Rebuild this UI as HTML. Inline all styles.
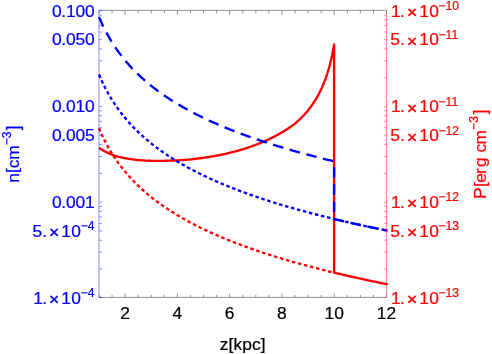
<!DOCTYPE html>
<html><head><meta charset="utf-8"><title>plot</title>
<style>html,body{margin:0;padding:0;background:#fff;overflow:hidden}body{width:492px;height:354px;position:relative}svg text{font-family:"Liberation Sans",sans-serif;stroke-width:0.22px;stroke-linejoin:round}</style></head>
<body>
<svg width="492" height="354" viewBox="0 0 492 354" style="position:absolute;left:0;top:0;will-change:transform">
<path d="M99.00,128.21 L99.94,130.44 L100.89,132.59 L101.83,134.67 L102.78,136.68 L103.72,138.63 L104.67,140.52 L105.61,142.36 L106.56,144.14 L107.50,145.88 L108.45,147.57 L109.39,149.21 L110.34,150.81 L111.28,152.37 L112.23,153.90 L113.17,155.38 L114.12,156.84 L115.06,158.26 L116.00,159.65 L116.95,161.01 L117.89,162.34 L118.84,163.64 L119.78,164.92 L120.73,166.17 L121.67,167.39 L122.62,168.59 L123.56,169.77 L124.51,170.93 L125.45,172.07 L126.40,173.19 L127.34,174.28 L128.29,175.36 L129.23,176.42 L130.17,177.47 L131.12,178.49 L132.06,179.50 L133.01,180.49 L133.95,181.47 L134.90,182.44 L135.84,183.38 L136.79,184.32 L137.73,185.24 L138.68,186.14 L139.62,187.04 L140.57,187.92 L141.51,188.79 L142.46,189.65 L143.40,190.49 L144.35,191.33 L145.29,192.15 L146.23,192.96 L147.18,193.77 L148.12,194.56 L149.07,195.34 L150.01,196.12 L150.96,196.88 L151.90,197.63 L152.85,198.38 L153.79,199.12 L154.74,199.84 L155.68,200.56 L156.63,201.27 L157.57,201.98 L158.52,202.67 L159.46,203.36 L160.40,204.04 L161.35,204.72 L162.29,205.38 L163.24,206.04 L164.18,206.69 L165.13,207.34 L166.07,207.98 L167.02,208.61 L167.96,209.24 L168.91,209.86 L169.85,210.47 L170.80,211.08 L171.74,211.68 L172.69,212.28 L173.63,212.87 L174.58,213.46 L175.52,214.04 L176.46,214.61 L177.41,215.18 L178.35,215.74 L179.30,216.30 L180.24,216.86 L181.19,217.41 L182.13,217.95 L183.08,218.49 L184.02,219.03 L184.97,219.56 L185.91,220.08 L186.86,220.61 L187.80,221.12 L188.75,221.64 L189.69,222.15 L190.63,222.65 L191.58,223.15 L192.52,223.65 L193.47,224.14 L194.41,224.63 L195.36,225.12 L196.30,225.60 L197.25,226.08 L198.19,226.55 L199.14,227.03 L200.08,227.49 L201.03,227.96 L201.97,228.42 L202.92,228.88 L203.86,229.33 L204.81,229.78 L205.75,230.23 L206.69,230.67 L207.64,231.11 L208.58,231.55 L209.53,231.99 L210.47,232.42 L211.42,232.85 L212.36,233.27 L213.31,233.70 L214.25,234.12 L215.20,234.54 L216.14,234.95 L217.09,235.36 L218.03,235.77 L218.98,236.18 L219.92,236.58 L220.86,236.99 L221.81,237.39 L222.75,237.78 L223.70,238.18 L224.64,238.57 L225.59,238.96 L226.53,239.34 L227.48,239.73 L228.42,240.11 L229.37,240.49 L230.31,240.87 L231.26,241.24 L232.20,241.62 L233.15,241.99 L234.09,242.36 L235.04,242.72 L235.98,243.09 L236.92,243.45 L237.87,243.81 L238.81,244.17 L239.76,244.52 L240.70,244.88 L241.65,245.23 L242.59,245.58 L243.54,245.93 L244.48,246.27 L245.43,246.62 L246.37,246.96 L247.32,247.30 L248.26,247.64 L249.21,247.98 L250.15,248.31 L251.09,248.65 L252.04,248.98 L252.98,249.31 L253.93,249.64 L254.87,249.96 L255.82,250.29 L256.76,250.61 L257.71,250.93 L258.65,251.25 L259.60,251.57 L260.54,251.89 L261.49,252.20 L262.43,252.52 L263.38,252.83 L264.32,253.14 L265.27,253.45 L266.21,253.75 L267.15,254.06 L268.10,254.36 L269.04,254.67 L269.99,254.97 L270.93,255.27 L271.88,255.57 L272.82,255.86 L273.77,256.16 L274.71,256.45 L275.66,256.75 L276.60,257.04 L277.55,257.33 L278.49,257.62 L279.44,257.90 L280.38,258.19 L281.32,258.48 L282.27,258.76 L283.21,259.04 L284.16,259.32 L285.10,259.60 L286.05,259.88 L286.99,260.16 L287.94,260.44 L288.88,260.71 L289.83,260.98 L290.77,261.26 L291.72,261.53 L292.66,261.80 L293.61,262.07 L294.55,262.33 L295.50,262.60 L296.44,262.87 L297.38,263.13 L298.33,263.40 L299.27,263.66 L300.22,263.92 L301.16,264.18 L302.11,264.44 L303.05,264.70 L304.00,264.95 L304.94,265.21 L305.89,265.46 L306.83,265.72 L307.78,265.97 L308.72,266.22 L309.67,266.47 L310.61,266.72 L311.55,266.97 L312.50,267.22 L313.44,267.47 L314.39,267.71 L315.33,267.96 L316.28,268.20 L317.22,268.44 L318.17,268.69 L319.11,268.93 L320.06,269.17 L321.00,269.41 L321.95,269.65 L322.89,269.88 L323.84,270.12 L324.78,270.35 L325.73,270.59 L326.67,270.82 L327.61,271.06 L328.56,271.29 L329.50,271.52 L330.45,271.75 L331.39,271.98 L332.34,272.21 L333.28,272.44 L334.10,272.66" fill="none" stroke="#ff0000" stroke-width="2.35" stroke-dasharray="3.5 2.7347"/>
<path d="M99.00,147.72 L100.01,148.44 L101.02,149.12 L102.03,149.76 L103.04,150.37 L104.05,150.94 L105.06,151.49 L106.07,152.01 L107.08,152.51 L108.09,152.99 L109.10,153.44 L110.11,153.87 L111.12,154.28 L112.13,154.67 L113.14,155.04 L114.15,155.40 L115.16,155.74 L116.17,156.07 L117.18,156.38 L118.19,156.68 L119.20,156.94 L120.21,157.18 L121.22,157.42 L122.23,157.65 L123.24,157.86 L124.25,158.07 L125.26,158.26 L126.27,158.45 L127.28,158.63 L128.29,158.79 L129.30,158.95 L130.31,159.11 L131.32,159.25 L132.33,159.39 L133.34,159.51 L134.35,159.64 L135.36,159.75 L136.37,159.86 L137.38,159.96 L138.39,160.06 L139.40,160.15 L140.41,160.23 L141.42,160.31 L142.43,160.38 L143.44,160.45 L144.45,160.51 L145.46,160.56 L146.47,160.61 L147.48,160.66 L148.49,160.70 L149.50,160.74 L150.51,160.77 L151.52,160.80 L152.53,160.82 L153.54,160.84 L154.55,160.85 L155.56,160.86 L156.57,160.87 L157.58,160.87 L158.59,160.87 L159.60,160.86 L160.61,160.85 L161.62,160.84 L162.63,160.82 L163.64,160.80 L164.65,160.77 L165.66,160.75 L166.67,160.74 L167.68,160.72 L168.69,160.70 L169.70,160.67 L170.71,160.64 L171.72,160.61 L172.73,160.58 L173.74,160.54 L174.75,160.50 L175.76,160.45 L176.77,160.40 L177.78,160.35 L178.79,160.29 L179.80,160.24 L180.81,160.17 L181.82,160.11 L182.83,160.04 L183.84,159.97 L184.85,159.89 L185.86,159.82 L186.87,159.74 L187.88,159.65 L188.89,159.57 L189.90,159.47 L190.91,159.37 L191.92,159.26 L192.93,159.15 L193.94,159.03 L194.95,158.92 L195.96,158.79 L196.97,158.67 L197.98,158.54 L198.99,158.41 L200.01,158.28 L201.02,158.14 L202.03,158.00 L203.04,157.86 L204.05,157.71 L205.06,157.56 L206.07,157.41 L207.08,157.25 L208.09,157.09 L209.10,156.93 L210.11,156.76 L211.12,156.59 L212.13,156.42 L213.14,156.25 L214.15,156.07 L215.16,155.88 L216.17,155.70 L217.18,155.51 L218.19,155.32 L219.20,155.12 L220.21,154.92 L221.22,154.72 L222.23,154.51 L223.24,154.30 L224.25,154.08 L225.26,153.86 L226.27,153.63 L227.28,153.40 L228.29,153.16 L229.30,152.92 L230.31,152.68 L231.32,152.43 L232.33,152.17 L233.34,151.91 L234.35,151.65 L235.36,151.39 L236.37,151.12 L237.38,150.84 L238.39,150.56 L239.40,150.28 L240.41,149.99 L241.42,149.70 L242.43,149.40 L243.44,149.10 L244.45,148.79 L245.46,148.47 L246.47,148.14 L247.48,147.80 L248.49,147.46 L249.50,147.11 L250.51,146.75 L251.52,146.39 L252.53,146.02 L253.54,145.65 L254.55,145.27 L255.56,144.89 L256.57,144.50 L257.58,144.11 L258.59,143.70 L259.60,143.29 L260.61,142.88 L261.62,142.46 L262.63,142.03 L263.64,141.59 L264.65,141.15 L265.66,140.70 L266.67,140.25 L267.68,139.79 L268.69,139.33 L269.70,138.85 L270.71,138.37 L271.72,137.87 L272.73,137.37 L273.74,136.86 L274.75,136.34 L275.76,135.81 L276.77,135.27 L277.78,134.72 L278.79,134.16 L279.80,133.59 L280.81,133.02 L281.82,132.44 L282.83,131.84 L283.84,131.24 L284.85,130.62 L285.86,129.98 L286.87,129.34 L287.88,128.67 L288.89,128.00 L289.90,127.31 L290.91,126.60 L291.92,125.87 L292.93,125.13 L293.91,124.37 L294.87,123.59 L295.84,122.79 L296.80,121.96 L297.77,121.12 L298.73,120.25 L299.69,119.36 L299.93,119.13 L300.17,118.91 L300.41,118.68 L300.65,118.44 L300.89,118.21 L301.13,117.98 L301.37,117.74 L301.61,117.50 L301.85,117.26 L302.09,117.02 L302.32,116.78 L302.56,116.53 L302.80,116.28 L303.04,116.03 L303.28,115.78 L303.52,115.53 L303.76,115.27 L303.99,115.02 L304.23,114.76 L304.47,114.50 L304.71,114.23 L304.95,113.97 L305.19,113.70 L305.43,113.43 L305.67,113.16 L305.91,112.88 L306.16,112.61 L306.40,112.33 L306.64,112.05 L306.88,111.76 L307.12,111.48 L307.36,111.19 L307.61,110.90 L307.85,110.60 L308.09,110.31 L308.33,110.01 L308.57,109.70 L308.81,109.40 L309.05,109.09 L309.29,108.78 L309.54,108.47 L309.78,108.15 L310.02,107.83 L310.26,107.51 L310.50,107.19 L310.74,106.86 L310.98,106.53 L311.22,106.19 L311.46,105.85 L311.70,105.51 L311.94,105.17 L312.18,104.82 L312.41,104.47 L312.65,104.11 L312.89,103.75 L313.13,103.39 L313.37,103.02 L313.62,102.65 L313.87,102.27 L314.13,101.89 L314.38,101.51 L314.63,101.12 L314.88,100.73 L315.13,100.33 L315.39,99.93 L315.64,99.53 L315.89,99.11 L316.14,98.70 L316.39,98.28 L316.65,97.85 L316.90,97.42 L317.15,96.98 L317.40,96.54 L317.66,96.09 L317.91,95.64 L318.16,95.18 L318.41,94.71 L318.66,94.24 L318.92,93.76 L319.17,93.27 L319.42,92.78 L319.67,92.28 L319.93,91.77 L320.18,91.26 L320.44,90.74 L320.70,90.21 L320.96,89.67 L321.21,89.13 L321.47,88.57 L321.73,88.01 L321.99,87.44 L322.24,86.85 L322.50,86.26 L322.76,85.66 L323.02,85.05 L323.28,84.43 L323.54,83.80 L323.79,83.15 L324.05,82.49 L324.31,81.82 L324.59,81.14 L324.86,80.45 L325.13,79.74 L325.40,79.02 L325.67,78.28 L325.94,77.53 L326.22,76.76 L326.49,75.97 L326.77,75.17 L327.04,74.35 L327.31,73.51 L327.59,72.64 L327.87,71.76 L328.14,70.86 L328.42,69.93 L328.70,68.98 L328.98,68.00 L329.26,67.00 L329.54,65.97 L329.58,65.83 L329.61,65.68 L329.65,65.54 L329.69,65.39 L329.73,65.25 L329.77,65.10 L329.81,64.95 L329.84,64.81 L329.88,64.66 L329.92,64.51 L329.96,64.36 L330.00,64.21 L330.04,64.06 L330.08,63.91 L330.11,63.76 L330.15,63.61 L330.19,63.45 L330.23,63.30 L330.27,63.14 L330.31,62.99 L330.35,62.83 L330.38,62.68 L330.42,62.52 L330.46,62.36 L330.50,62.21 L330.54,62.05 L330.58,61.89 L330.62,61.73 L330.66,61.57 L330.70,61.40 L330.73,61.24 L330.77,61.08 L330.81,60.91 L330.85,60.75 L330.89,60.58 L330.93,60.42 L330.97,60.25 L331.01,60.08 L331.05,59.92 L331.08,59.75 L331.12,59.58 L331.16,59.41 L331.20,59.23 L331.23,59.06 L331.27,58.89 L331.31,58.71 L331.35,58.54 L331.39,58.36 L331.42,58.19 L331.46,58.01 L331.50,57.83 L331.54,57.65 L331.58,57.47 L331.61,57.29 L331.65,57.11 L331.69,56.93 L331.73,56.74 L331.77,56.56 L331.81,56.37 L331.84,56.19 L331.88,56.00 L331.92,55.81 L331.96,55.62 L332.00,55.43 L332.03,55.24 L332.07,55.05 L332.11,54.85 L332.15,54.66 L332.19,54.46 L332.23,54.27 L332.26,54.07 L332.30,53.87 L332.34,53.67 L332.38,53.47 L332.42,53.27 L332.46,53.07 L332.50,52.86 L332.53,52.66 L332.57,52.45 L332.61,52.24 L332.65,52.04 L332.69,51.83 L332.73,51.61 L332.77,51.40 L332.80,51.19 L332.84,50.97 L332.88,50.76 L332.92,50.54 L332.96,50.32 L333.00,50.10 L333.04,50.18 L333.08,49.96 L333.12,49.74 L333.15,49.51 L333.19,49.28 L333.23,49.06 L333.27,48.83 L333.31,48.60 L333.35,48.36 L333.39,48.13 L333.43,47.89 L333.47,47.66 L333.51,47.42 L333.55,47.18 L333.58,46.94 L333.62,46.69 L333.66,46.45 L333.70,46.20 L333.74,45.96 L333.78,45.71 L333.82,45.45 L333.86,45.20 L333.89,44.95 L333.93,44.69 L333.96,44.43 L334.00,44.17 L334.03,43.91 L334.07,43.65 L334.10,43.38 L334.10,272.66 L334.10,272.66 L336.07,273.11 L337.91,273.54 L339.76,273.98 L341.60,274.41 L343.44,274.84 L345.29,275.26 L347.13,275.69 L348.97,276.11 L350.81,276.52 L352.66,276.94 L354.50,277.35 L356.34,277.76 L358.19,278.17 L360.03,278.57 L361.87,278.97 L363.72,279.37 L365.56,279.77 L367.40,280.16 L369.25,280.55 L371.09,280.94 L372.93,281.33 L374.77,281.71 L376.62,282.09 L378.46,282.47 L380.30,282.85 L382.15,283.23 L383.99,283.60 L385.83,283.97 L387.68,284.34" fill="none" stroke="#ff0000" stroke-width="2.35" stroke-linejoin="miter" stroke-miterlimit="3"/>
<path d="M99.00,74.53 L99.97,76.81 L100.93,79.00 L101.90,81.13 L102.86,83.18 L103.83,85.17 L104.79,87.09 L105.76,88.96 L106.72,90.78 L107.69,92.54 L108.65,94.25 L109.62,95.92 L110.59,97.55 L111.55,99.14 L112.52,100.68 L113.48,102.19 L114.45,103.67 L115.41,105.11 L116.38,106.51 L117.34,107.89 L118.31,109.24 L119.27,110.56 L120.24,111.85 L121.21,113.11 L122.17,114.35 L123.14,115.57 L124.10,116.76 L125.07,117.94 L126.03,119.09 L127.00,120.21 L127.96,121.32 L128.93,122.41 L129.90,123.48 L130.86,124.54 L131.83,125.57 L132.79,126.59 L133.76,127.59 L134.72,128.58 L135.69,129.55 L136.65,130.51 L137.62,131.45 L138.58,132.38 L139.55,133.30 L140.52,134.20 L141.48,135.09 L142.45,135.96 L143.41,136.83 L144.38,137.68 L145.34,138.52 L146.31,139.35 L147.27,140.17 L148.24,140.98 L149.20,141.78 L150.17,142.57 L151.14,143.35 L152.10,144.11 L153.07,144.87 L154.03,145.63 L155.00,146.37 L155.96,147.10 L156.93,147.82 L157.89,148.54 L158.86,149.25 L159.82,149.95 L160.79,150.64 L161.76,151.33 L162.72,152.01 L163.69,152.68 L164.65,153.34 L165.62,154.00 L166.58,154.65 L167.55,155.29 L168.51,155.93 L169.48,156.56 L170.44,157.18 L171.41,157.80 L172.38,158.41 L173.34,159.01 L174.31,159.61 L175.27,160.21 L176.24,160.80 L177.20,161.38 L178.17,161.96 L179.13,162.53 L180.10,163.10 L181.07,163.66 L182.03,164.22 L183.00,164.77 L183.96,165.32 L184.93,165.86 L185.89,166.40 L186.86,166.93 L187.82,167.46 L188.79,167.99 L189.75,168.51 L190.72,169.02 L191.69,169.53 L192.65,170.04 L193.62,170.55 L194.58,171.05 L195.55,171.54 L196.51,172.03 L197.48,172.52 L198.44,173.00 L199.41,173.49 L200.37,173.96 L201.34,174.44 L202.31,174.90 L203.27,175.37 L204.24,175.83 L205.20,176.29 L206.17,176.75 L207.13,177.20 L208.10,177.65 L209.06,178.10 L210.03,178.54 L210.99,178.98 L211.96,179.42 L212.93,179.85 L213.89,180.28 L214.86,180.71 L215.82,181.14 L216.79,181.56 L217.75,181.98 L218.72,182.39 L219.68,182.81 L220.65,183.22 L221.61,183.63 L222.58,184.03 L223.55,184.44 L224.51,184.84 L225.48,185.24 L226.44,185.63 L227.41,186.02 L228.37,186.42 L229.34,186.80 L230.30,187.19 L231.27,187.57 L232.24,187.95 L233.20,188.33 L234.17,188.71 L235.13,189.08 L236.10,189.46 L237.06,189.83 L238.03,190.19 L238.99,190.56 L239.96,190.92 L240.92,191.29 L241.89,191.64 L242.86,192.00 L243.82,192.36 L244.79,192.71 L245.75,193.06 L246.72,193.41 L247.68,193.76 L248.65,194.10 L249.61,194.45 L250.58,194.79 L251.54,195.13 L252.51,195.47 L253.48,195.80 L254.44,196.14 L255.41,196.47 L256.37,196.80 L257.34,197.13 L258.30,197.46 L259.27,197.78 L260.23,198.11 L261.20,198.43 L262.16,198.75 L263.13,199.07 L264.10,199.39 L265.06,199.70 L266.03,200.02 L266.99,200.33 L267.96,200.64 L268.92,200.95 L269.89,201.26 L270.85,201.57 L271.82,201.87 L272.78,202.18 L273.75,202.48 L274.72,202.78 L275.68,203.08 L276.65,203.38 L277.61,203.67 L278.58,203.97 L279.54,204.26 L280.51,204.55 L281.47,204.85 L282.44,205.13 L283.41,205.42 L284.37,205.71 L285.34,206.00 L286.30,206.28 L287.27,206.56 L288.23,206.85 L289.20,207.13 L290.16,207.41 L291.13,207.68 L292.09,207.96 L293.06,208.24 L294.03,208.51 L294.99,208.78 L295.96,209.06 L296.92,209.33 L297.89,209.60 L298.85,209.87 L299.82,210.13 L300.78,210.40 L301.75,210.66 L302.71,210.93 L303.68,211.19 L304.65,211.45 L305.61,211.71 L306.58,211.97 L307.54,212.23 L308.51,212.49 L309.47,212.75 L310.44,213.00 L311.40,213.26 L312.37,213.51 L313.33,213.76 L314.30,214.01 L315.27,214.26 L316.23,214.51 L317.20,214.76 L318.16,215.01 L319.13,215.26 L320.09,215.50 L321.06,215.75 L322.02,215.99 L322.99,216.23 L323.95,216.47 L324.92,216.71 L325.89,216.95 L326.85,217.19 L327.82,217.43 L328.78,217.67 L329.75,217.90 L330.71,218.14 L331.68,218.37 L332.64,218.61 L333.61,218.84 L334.58,219.07 L335.54,219.30 L336.51,219.53 L337.47,219.76 L338.44,219.99 L339.40,220.22 L340.37,220.45 L341.33,220.67 L342.30,220.90 L343.26,221.12 L344.23,221.34 L345.20,221.57 L346.16,221.79 L347.13,222.01 L348.09,222.23 L349.06,222.45 L350.02,222.67 L350.99,222.89 L351.95,223.11 L352.92,223.32 L353.88,223.54 L354.85,223.75 L355.82,223.97 L356.78,224.18 L357.75,224.39 L358.71,224.61 L359.68,224.82 L360.64,225.03 L361.61,225.24 L362.57,225.45 L363.54,225.66 L364.50,225.87 L365.47,226.07 L366.44,226.28 L367.40,226.49 L368.37,226.69 L369.33,226.90 L370.30,227.10 L371.26,227.30 L372.23,227.51 L373.19,227.71 L374.16,227.91 L375.13,228.11 L376.09,228.31 L377.06,228.51 L378.02,228.71 L378.99,228.91 L379.95,229.10 L380.92,229.30 L381.88,229.50 L382.85,229.69 L383.81,229.89 L384.78,230.08 L385.75,230.28 L386.71,230.47 L387.68,230.66" fill="none" stroke="#0000ff" stroke-width="2.35" stroke-dasharray="3.5 2.71"/>
<path d="M99.00,16.94 L99.94,19.16 L100.89,21.31 L101.83,23.39 L102.78,25.41 L103.72,27.36 L104.67,29.25 L105.61,31.09 L106.56,32.87 L107.50,34.60 L108.45,36.29 L109.39,37.94 L110.34,39.54 L111.28,41.10 L112.23,42.62 L113.17,44.11 L114.12,45.57 L115.06,46.99 L116.00,48.37 L116.95,49.73 L117.89,51.06 L118.84,52.37 L119.78,53.64 L120.73,54.89 L121.67,56.12 L122.62,57.32 L123.56,58.50 L124.51,59.66 L125.45,60.80 L126.40,61.91 L127.34,63.01 L128.29,64.09 L129.23,65.15 L130.17,66.19 L131.12,67.22 L132.06,68.23 L133.01,69.22 L133.95,70.20 L134.90,71.16 L135.84,72.11 L136.79,73.04 L137.73,73.96 L138.68,74.87 L139.62,75.77 L140.57,76.65 L141.51,77.52 L142.46,78.37 L143.40,79.22 L144.35,80.06 L145.29,80.88 L146.23,81.69 L147.18,82.49 L148.12,83.29 L149.07,84.07 L150.01,84.84 L150.96,85.61 L151.90,86.36 L152.85,87.11 L153.79,87.84 L154.74,88.57 L155.68,89.29 L156.63,90.00 L157.57,90.71 L158.52,91.40 L159.46,92.09 L160.40,92.77 L161.35,93.44 L162.29,94.11 L163.24,94.77 L164.18,95.42 L165.13,96.07 L166.07,96.71 L167.02,97.34 L167.96,97.96 L168.91,98.59 L169.85,99.20 L170.80,99.81 L171.74,100.41 L172.69,101.01 L173.63,101.60 L174.58,102.18 L175.52,102.76 L176.46,103.34 L177.41,103.91 L178.35,104.47 L179.30,105.03 L180.24,105.58 L181.19,106.13 L182.13,106.68 L183.08,107.22 L184.02,107.75 L184.97,108.29 L185.91,108.81 L186.86,109.33 L187.80,109.85 L188.75,110.37 L189.69,110.87 L190.63,111.38 L191.58,111.88 L192.52,112.38 L193.47,112.87 L194.41,113.36 L195.36,113.85 L196.30,114.33 L197.25,114.81 L198.19,115.28 L199.14,115.75 L200.08,116.22 L201.03,116.68 L201.97,117.15 L202.92,117.60 L203.86,118.06 L204.81,118.51 L205.75,118.96 L206.69,119.40 L207.64,119.84 L208.58,120.28 L209.53,120.71 L210.47,121.15 L211.42,121.58 L212.36,122.00 L213.31,122.43 L214.25,122.85 L215.20,123.26 L216.14,123.68 L217.09,124.09 L218.03,124.50 L218.98,124.91 L219.92,125.31 L220.86,125.71 L221.81,126.11 L222.75,126.51 L223.70,126.90 L224.64,127.30 L225.59,127.68 L226.53,128.07 L227.48,128.46 L228.42,128.84 L229.37,129.22 L230.31,129.60 L231.26,129.97 L232.20,130.34 L233.15,130.71 L234.09,131.08 L235.04,131.45 L235.98,131.81 L236.92,132.18 L237.87,132.54 L238.81,132.90 L239.76,133.25 L240.70,133.61 L241.65,133.96 L242.59,134.31 L243.54,134.66 L244.48,135.00 L245.43,135.35 L246.37,135.69 L247.32,136.03 L248.26,136.37 L249.21,136.71 L250.15,137.04 L251.09,137.37 L252.04,137.71 L252.98,138.04 L253.93,138.36 L254.87,138.69 L255.82,139.02 L256.76,139.34 L257.71,139.66 L258.65,139.98 L259.60,140.30 L260.54,140.61 L261.49,140.93 L262.43,141.24 L263.38,141.55 L264.32,141.86 L265.27,142.17 L266.21,142.48 L267.15,142.79 L268.10,143.09 L269.04,143.39 L269.99,143.70 L270.93,144.00 L271.88,144.29 L272.82,144.59 L273.77,144.89 L274.71,145.18 L275.66,145.47 L276.60,145.77 L277.55,146.06 L278.49,146.34 L279.44,146.63 L280.38,146.92 L281.32,147.20 L282.27,147.49 L283.21,147.77 L284.16,148.05 L285.10,148.33 L286.05,148.61 L286.99,148.89 L287.94,149.16 L288.88,149.44 L289.83,149.71 L290.77,149.98 L291.72,150.26 L292.66,150.53 L293.61,150.79 L294.55,151.06 L295.50,151.33 L296.44,151.59 L297.38,151.86 L298.33,152.12 L299.27,152.38 L300.22,152.65 L301.16,152.91 L302.11,153.17 L303.05,153.42 L304.00,153.68 L304.94,153.94 L305.89,154.19 L306.83,154.44 L307.78,154.70 L308.72,154.95 L309.67,155.20 L310.61,155.45 L311.55,155.70 L312.50,155.95 L313.44,156.19 L314.39,156.44 L315.33,156.68 L316.28,156.93 L317.22,157.17 L318.17,157.41 L319.11,157.65 L320.06,157.89 L321.00,158.13 L321.95,158.37 L322.89,158.61 L323.84,158.85 L324.78,159.08 L325.73,159.32 L326.67,159.55 L327.61,159.78 L328.56,160.02 L329.50,160.25 L330.45,160.48 L331.39,160.71 L332.34,160.94 L333.28,161.16 L334.10,161.39 L334.10,218.99 L335.32,219.25 L336.41,219.51 L337.50,219.77 L338.59,220.03 L339.68,220.28 L340.77,220.54 L341.86,220.80 L342.95,221.05 L344.04,221.30 L345.14,221.55 L346.23,221.80 L347.32,222.05 L348.41,222.30 L349.50,222.55 L350.59,222.80 L351.68,223.04 L352.77,223.29 L353.86,223.53 L354.95,223.78 L356.04,224.02 L357.13,224.26 L358.22,224.50 L359.32,224.74 L360.41,224.98 L361.50,225.22 L362.59,225.45 L363.68,225.69 L364.77,225.92 L365.86,226.16 L366.95,226.39 L368.04,226.62 L369.13,226.85 L370.22,227.08 L371.31,227.31 L372.41,227.54 L373.50,227.77 L374.59,228.00 L375.68,228.22 L376.77,228.45 L377.86,228.67 L378.95,228.90 L380.04,229.12 L381.13,229.34 L382.22,229.57 L383.31,229.79 L384.40,230.01 L385.49,230.23 L386.59,230.44 L387.68,230.66" fill="none" stroke="#0000ff" stroke-width="2.35" stroke-dasharray="10.6 6.6"/>
<line x1="99.0" y1="10.4" x2="386.5" y2="10.4" stroke="#7a7a7a" stroke-width="0.8"/>
<line x1="99.0" y1="297.4" x2="386.5" y2="297.4" stroke="#7a7a7a" stroke-width="0.8"/>
<line x1="99.0" y1="10.4" x2="99.0" y2="297.4" stroke="rgba(0,0,255,0.45)" stroke-width="1"/>
<line x1="386.5" y1="10.4" x2="386.5" y2="297.4" stroke="rgba(255,0,0,0.45)" stroke-width="1"/>
<line x1="99.00" y1="297.4" x2="99.00" y2="294.9" stroke="#7a7a7a" stroke-width="0.8"/>
<line x1="99.00" y1="10.4" x2="99.00" y2="13.5" stroke="#7a7a7a" stroke-width="0.8"/>
<line x1="112.07" y1="297.4" x2="112.07" y2="294.9" stroke="#7a7a7a" stroke-width="0.8"/>
<line x1="112.07" y1="10.4" x2="112.07" y2="13.5" stroke="#7a7a7a" stroke-width="0.8"/>
<line x1="125.14" y1="297.4" x2="125.14" y2="293.4" stroke="#7a7a7a" stroke-width="0.8"/>
<line x1="125.14" y1="10.4" x2="125.14" y2="15.0" stroke="#7a7a7a" stroke-width="0.8"/>
<line x1="138.20" y1="297.4" x2="138.20" y2="294.9" stroke="#7a7a7a" stroke-width="0.8"/>
<line x1="138.20" y1="10.4" x2="138.20" y2="13.5" stroke="#7a7a7a" stroke-width="0.8"/>
<line x1="151.27" y1="297.4" x2="151.27" y2="294.9" stroke="#7a7a7a" stroke-width="0.8"/>
<line x1="151.27" y1="10.4" x2="151.27" y2="13.5" stroke="#7a7a7a" stroke-width="0.8"/>
<line x1="164.34" y1="297.4" x2="164.34" y2="294.9" stroke="#7a7a7a" stroke-width="0.8"/>
<line x1="164.34" y1="10.4" x2="164.34" y2="13.5" stroke="#7a7a7a" stroke-width="0.8"/>
<line x1="177.41" y1="297.4" x2="177.41" y2="293.4" stroke="#7a7a7a" stroke-width="0.8"/>
<line x1="177.41" y1="10.4" x2="177.41" y2="15.0" stroke="#7a7a7a" stroke-width="0.8"/>
<line x1="190.48" y1="297.4" x2="190.48" y2="294.9" stroke="#7a7a7a" stroke-width="0.8"/>
<line x1="190.48" y1="10.4" x2="190.48" y2="13.5" stroke="#7a7a7a" stroke-width="0.8"/>
<line x1="203.55" y1="297.4" x2="203.55" y2="294.9" stroke="#7a7a7a" stroke-width="0.8"/>
<line x1="203.55" y1="10.4" x2="203.55" y2="13.5" stroke="#7a7a7a" stroke-width="0.8"/>
<line x1="216.61" y1="297.4" x2="216.61" y2="294.9" stroke="#7a7a7a" stroke-width="0.8"/>
<line x1="216.61" y1="10.4" x2="216.61" y2="13.5" stroke="#7a7a7a" stroke-width="0.8"/>
<line x1="229.68" y1="297.4" x2="229.68" y2="293.4" stroke="#7a7a7a" stroke-width="0.8"/>
<line x1="229.68" y1="10.4" x2="229.68" y2="15.0" stroke="#7a7a7a" stroke-width="0.8"/>
<line x1="242.75" y1="297.4" x2="242.75" y2="294.9" stroke="#7a7a7a" stroke-width="0.8"/>
<line x1="242.75" y1="10.4" x2="242.75" y2="13.5" stroke="#7a7a7a" stroke-width="0.8"/>
<line x1="255.82" y1="297.4" x2="255.82" y2="294.9" stroke="#7a7a7a" stroke-width="0.8"/>
<line x1="255.82" y1="10.4" x2="255.82" y2="13.5" stroke="#7a7a7a" stroke-width="0.8"/>
<line x1="268.89" y1="297.4" x2="268.89" y2="294.9" stroke="#7a7a7a" stroke-width="0.8"/>
<line x1="268.89" y1="10.4" x2="268.89" y2="13.5" stroke="#7a7a7a" stroke-width="0.8"/>
<line x1="281.95" y1="297.4" x2="281.95" y2="293.4" stroke="#7a7a7a" stroke-width="0.8"/>
<line x1="281.95" y1="10.4" x2="281.95" y2="15.0" stroke="#7a7a7a" stroke-width="0.8"/>
<line x1="295.02" y1="297.4" x2="295.02" y2="294.9" stroke="#7a7a7a" stroke-width="0.8"/>
<line x1="295.02" y1="10.4" x2="295.02" y2="13.5" stroke="#7a7a7a" stroke-width="0.8"/>
<line x1="308.09" y1="297.4" x2="308.09" y2="294.9" stroke="#7a7a7a" stroke-width="0.8"/>
<line x1="308.09" y1="10.4" x2="308.09" y2="13.5" stroke="#7a7a7a" stroke-width="0.8"/>
<line x1="321.16" y1="297.4" x2="321.16" y2="294.9" stroke="#7a7a7a" stroke-width="0.8"/>
<line x1="321.16" y1="10.4" x2="321.16" y2="13.5" stroke="#7a7a7a" stroke-width="0.8"/>
<line x1="334.23" y1="297.4" x2="334.23" y2="293.4" stroke="#7a7a7a" stroke-width="0.8"/>
<line x1="334.23" y1="10.4" x2="334.23" y2="15.0" stroke="#7a7a7a" stroke-width="0.8"/>
<line x1="347.30" y1="297.4" x2="347.30" y2="294.9" stroke="#7a7a7a" stroke-width="0.8"/>
<line x1="347.30" y1="10.4" x2="347.30" y2="13.5" stroke="#7a7a7a" stroke-width="0.8"/>
<line x1="360.36" y1="297.4" x2="360.36" y2="294.9" stroke="#7a7a7a" stroke-width="0.8"/>
<line x1="360.36" y1="10.4" x2="360.36" y2="13.5" stroke="#7a7a7a" stroke-width="0.8"/>
<line x1="373.43" y1="297.4" x2="373.43" y2="294.9" stroke="#7a7a7a" stroke-width="0.8"/>
<line x1="373.43" y1="10.4" x2="373.43" y2="13.5" stroke="#7a7a7a" stroke-width="0.8"/>
<line x1="386.50" y1="297.4" x2="386.50" y2="293.4" stroke="#7a7a7a" stroke-width="0.8"/>
<line x1="386.50" y1="10.4" x2="386.50" y2="15.0" stroke="#7a7a7a" stroke-width="0.8"/>
<line x1="99.0" y1="297.40" x2="102.2" y2="297.40" stroke="rgba(0,0,255,0.6)" stroke-width="0.7"/>
<line x1="386.5" y1="297.40" x2="383.8" y2="297.40" stroke="rgba(255,0,0,0.6)" stroke-width="0.7"/>
<line x1="99.0" y1="269.00" x2="102.2" y2="269.00" stroke="rgba(0,0,255,0.6)" stroke-width="0.7"/>
<line x1="386.5" y1="269.00" x2="383.8" y2="269.00" stroke="rgba(255,0,0,0.6)" stroke-width="0.7"/>
<line x1="99.0" y1="252.16" x2="102.2" y2="252.16" stroke="rgba(0,0,255,0.6)" stroke-width="0.7"/>
<line x1="386.5" y1="252.16" x2="383.8" y2="252.16" stroke="rgba(255,0,0,0.6)" stroke-width="0.7"/>
<line x1="99.0" y1="240.20" x2="102.2" y2="240.20" stroke="rgba(0,0,255,0.6)" stroke-width="0.7"/>
<line x1="386.5" y1="240.20" x2="383.8" y2="240.20" stroke="rgba(255,0,0,0.6)" stroke-width="0.7"/>
<line x1="99.0" y1="230.93" x2="102.2" y2="230.93" stroke="rgba(0,0,255,0.6)" stroke-width="0.7"/>
<line x1="386.5" y1="230.93" x2="383.8" y2="230.93" stroke="rgba(255,0,0,0.6)" stroke-width="0.7"/>
<line x1="99.0" y1="223.36" x2="102.2" y2="223.36" stroke="rgba(0,0,255,0.6)" stroke-width="0.7"/>
<line x1="386.5" y1="223.36" x2="383.8" y2="223.36" stroke="rgba(255,0,0,0.6)" stroke-width="0.7"/>
<line x1="99.0" y1="216.95" x2="102.2" y2="216.95" stroke="rgba(0,0,255,0.6)" stroke-width="0.7"/>
<line x1="386.5" y1="216.95" x2="383.8" y2="216.95" stroke="rgba(255,0,0,0.6)" stroke-width="0.7"/>
<line x1="99.0" y1="211.40" x2="102.2" y2="211.40" stroke="rgba(0,0,255,0.6)" stroke-width="0.7"/>
<line x1="386.5" y1="211.40" x2="383.8" y2="211.40" stroke="rgba(255,0,0,0.6)" stroke-width="0.7"/>
<line x1="99.0" y1="206.51" x2="102.2" y2="206.51" stroke="rgba(0,0,255,0.6)" stroke-width="0.7"/>
<line x1="386.5" y1="206.51" x2="383.8" y2="206.51" stroke="rgba(255,0,0,0.6)" stroke-width="0.7"/>
<line x1="99.0" y1="202.13" x2="102.2" y2="202.13" stroke="rgba(0,0,255,0.6)" stroke-width="0.7"/>
<line x1="386.5" y1="202.13" x2="383.8" y2="202.13" stroke="rgba(255,0,0,0.6)" stroke-width="0.7"/>
<line x1="99.0" y1="173.33" x2="102.2" y2="173.33" stroke="rgba(0,0,255,0.6)" stroke-width="0.7"/>
<line x1="386.5" y1="173.33" x2="383.8" y2="173.33" stroke="rgba(255,0,0,0.6)" stroke-width="0.7"/>
<line x1="99.0" y1="156.49" x2="102.2" y2="156.49" stroke="rgba(0,0,255,0.6)" stroke-width="0.7"/>
<line x1="386.5" y1="156.49" x2="383.8" y2="156.49" stroke="rgba(255,0,0,0.6)" stroke-width="0.7"/>
<line x1="99.0" y1="144.54" x2="102.2" y2="144.54" stroke="rgba(0,0,255,0.6)" stroke-width="0.7"/>
<line x1="386.5" y1="144.54" x2="383.8" y2="144.54" stroke="rgba(255,0,0,0.6)" stroke-width="0.7"/>
<line x1="99.0" y1="135.27" x2="102.2" y2="135.27" stroke="rgba(0,0,255,0.6)" stroke-width="0.7"/>
<line x1="386.5" y1="135.27" x2="383.8" y2="135.27" stroke="rgba(255,0,0,0.6)" stroke-width="0.7"/>
<line x1="99.0" y1="127.69" x2="102.2" y2="127.69" stroke="rgba(0,0,255,0.6)" stroke-width="0.7"/>
<line x1="386.5" y1="127.69" x2="383.8" y2="127.69" stroke="rgba(255,0,0,0.6)" stroke-width="0.7"/>
<line x1="99.0" y1="121.29" x2="102.2" y2="121.29" stroke="rgba(0,0,255,0.6)" stroke-width="0.7"/>
<line x1="386.5" y1="121.29" x2="383.8" y2="121.29" stroke="rgba(255,0,0,0.6)" stroke-width="0.7"/>
<line x1="99.0" y1="115.74" x2="102.2" y2="115.74" stroke="rgba(0,0,255,0.6)" stroke-width="0.7"/>
<line x1="386.5" y1="115.74" x2="383.8" y2="115.74" stroke="rgba(255,0,0,0.6)" stroke-width="0.7"/>
<line x1="99.0" y1="110.84" x2="102.2" y2="110.84" stroke="rgba(0,0,255,0.6)" stroke-width="0.7"/>
<line x1="386.5" y1="110.84" x2="383.8" y2="110.84" stroke="rgba(255,0,0,0.6)" stroke-width="0.7"/>
<line x1="99.0" y1="106.47" x2="102.2" y2="106.47" stroke="rgba(0,0,255,0.6)" stroke-width="0.7"/>
<line x1="386.5" y1="106.47" x2="383.8" y2="106.47" stroke="rgba(255,0,0,0.6)" stroke-width="0.7"/>
<line x1="99.0" y1="77.67" x2="102.2" y2="77.67" stroke="rgba(0,0,255,0.6)" stroke-width="0.7"/>
<line x1="386.5" y1="77.67" x2="383.8" y2="77.67" stroke="rgba(255,0,0,0.6)" stroke-width="0.7"/>
<line x1="99.0" y1="60.82" x2="102.2" y2="60.82" stroke="rgba(0,0,255,0.6)" stroke-width="0.7"/>
<line x1="386.5" y1="60.82" x2="383.8" y2="60.82" stroke="rgba(255,0,0,0.6)" stroke-width="0.7"/>
<line x1="99.0" y1="48.87" x2="102.2" y2="48.87" stroke="rgba(0,0,255,0.6)" stroke-width="0.7"/>
<line x1="386.5" y1="48.87" x2="383.8" y2="48.87" stroke="rgba(255,0,0,0.6)" stroke-width="0.7"/>
<line x1="99.0" y1="39.60" x2="102.2" y2="39.60" stroke="rgba(0,0,255,0.6)" stroke-width="0.7"/>
<line x1="386.5" y1="39.60" x2="383.8" y2="39.60" stroke="rgba(255,0,0,0.6)" stroke-width="0.7"/>
<line x1="99.0" y1="32.02" x2="102.2" y2="32.02" stroke="rgba(0,0,255,0.6)" stroke-width="0.7"/>
<line x1="386.5" y1="32.02" x2="383.8" y2="32.02" stroke="rgba(255,0,0,0.6)" stroke-width="0.7"/>
<line x1="99.0" y1="25.62" x2="102.2" y2="25.62" stroke="rgba(0,0,255,0.6)" stroke-width="0.7"/>
<line x1="386.5" y1="25.62" x2="383.8" y2="25.62" stroke="rgba(255,0,0,0.6)" stroke-width="0.7"/>
<line x1="99.0" y1="20.07" x2="102.2" y2="20.07" stroke="rgba(0,0,255,0.6)" stroke-width="0.7"/>
<line x1="386.5" y1="20.07" x2="383.8" y2="20.07" stroke="rgba(255,0,0,0.6)" stroke-width="0.7"/>
<line x1="99.0" y1="15.18" x2="102.2" y2="15.18" stroke="rgba(0,0,255,0.6)" stroke-width="0.7"/>
<line x1="386.5" y1="15.18" x2="383.8" y2="15.18" stroke="rgba(255,0,0,0.6)" stroke-width="0.7"/>
<line x1="99.0" y1="10.4" x2="102.2" y2="10.4" stroke="rgba(60,60,255,1)" stroke-width="0.8"/>
<line x1="99.0" y1="297.4" x2="102.2" y2="297.4" stroke="rgba(60,60,255,1)" stroke-width="0.8"/>
<text x="94.5" y="16.60" fill="#0000ff" stroke="#0000ff" font-size="17.4" text-anchor="end" letter-spacing="-0.18">0.100</text>
<text x="94.5" y="45.40" fill="#0000ff" stroke="#0000ff" font-size="17.4" text-anchor="end" letter-spacing="-0.18">0.050</text>
<text x="94.5" y="112.27" fill="#0000ff" stroke="#0000ff" font-size="17.4" text-anchor="end" letter-spacing="-0.18">0.010</text>
<text x="94.5" y="141.07" fill="#0000ff" stroke="#0000ff" font-size="17.4" text-anchor="end" letter-spacing="-0.18">0.005</text>
<text x="94.5" y="207.93" fill="#0000ff" stroke="#0000ff" font-size="17.4" text-anchor="end" letter-spacing="-0.18">0.001</text>
<text x="32.46" y="236.83" fill="#0000ff" stroke="#0000ff" font-size="17.4" text-anchor="start" >5</text>
<text x="42.22" y="236.83" fill="#0000ff" stroke="#0000ff" font-size="17.4" text-anchor="start" >.</text>
<text x="49.06" y="238.28" fill="#0000ff" stroke="#0000ff" font-size="17.4" text-anchor="start" style="stroke-width:0.55px">×</text>
<text x="61.36" y="236.83" fill="#0000ff" stroke="#0000ff" font-size="17.4" text-anchor="start" letter-spacing="0.3">10</text>
<text x="80.66" y="230.33" fill="#0000ff" stroke="#0000ff" font-size="12.1" text-anchor="start" >−4</text>
<text x="33.16" y="303.70" fill="#0000ff" stroke="#0000ff" font-size="17.4" text-anchor="start" >1</text>
<text x="42.22" y="303.70" fill="#0000ff" stroke="#0000ff" font-size="17.4" text-anchor="start" >.</text>
<text x="49.06" y="305.15" fill="#0000ff" stroke="#0000ff" font-size="17.4" text-anchor="start" style="stroke-width:0.55px">×</text>
<text x="61.36" y="303.70" fill="#0000ff" stroke="#0000ff" font-size="17.4" text-anchor="start" letter-spacing="0.3">10</text>
<text x="80.66" y="297.20" fill="#0000ff" stroke="#0000ff" font-size="12.1" text-anchor="start" >−4</text>
<text x="391.00" y="16.60" fill="#ff0000" stroke="#ff0000" font-size="17.4" text-anchor="start" >1</text>
<text x="400.06" y="16.60" fill="#ff0000" stroke="#ff0000" font-size="17.4" text-anchor="start" >.</text>
<text x="406.90" y="18.05" fill="#ff0000" stroke="#ff0000" font-size="17.4" text-anchor="start" style="stroke-width:0.55px">×</text>
<text x="419.20" y="16.60" fill="#ff0000" stroke="#ff0000" font-size="17.4" text-anchor="start" letter-spacing="0.3">10</text>
<text x="438.50" y="10.10" fill="#ff0000" stroke="#ff0000" font-size="12.1" text-anchor="start" >−10</text>
<text x="390.30" y="45.40" fill="#ff0000" stroke="#ff0000" font-size="17.4" text-anchor="start" >5</text>
<text x="400.06" y="45.40" fill="#ff0000" stroke="#ff0000" font-size="17.4" text-anchor="start" >.</text>
<text x="406.90" y="46.85" fill="#ff0000" stroke="#ff0000" font-size="17.4" text-anchor="start" style="stroke-width:0.55px">×</text>
<text x="419.20" y="45.40" fill="#ff0000" stroke="#ff0000" font-size="17.4" text-anchor="start" letter-spacing="0.3">10</text>
<text x="438.50" y="38.90" fill="#ff0000" stroke="#ff0000" font-size="12.1" text-anchor="start" >−11</text>
<text x="391.00" y="112.27" fill="#ff0000" stroke="#ff0000" font-size="17.4" text-anchor="start" >1</text>
<text x="400.06" y="112.27" fill="#ff0000" stroke="#ff0000" font-size="17.4" text-anchor="start" >.</text>
<text x="406.90" y="113.72" fill="#ff0000" stroke="#ff0000" font-size="17.4" text-anchor="start" style="stroke-width:0.55px">×</text>
<text x="419.20" y="112.27" fill="#ff0000" stroke="#ff0000" font-size="17.4" text-anchor="start" letter-spacing="0.3">10</text>
<text x="438.50" y="105.77" fill="#ff0000" stroke="#ff0000" font-size="12.1" text-anchor="start" >−11</text>
<text x="390.30" y="141.07" fill="#ff0000" stroke="#ff0000" font-size="17.4" text-anchor="start" >5</text>
<text x="400.06" y="141.07" fill="#ff0000" stroke="#ff0000" font-size="17.4" text-anchor="start" >.</text>
<text x="406.90" y="142.52" fill="#ff0000" stroke="#ff0000" font-size="17.4" text-anchor="start" style="stroke-width:0.55px">×</text>
<text x="419.20" y="141.07" fill="#ff0000" stroke="#ff0000" font-size="17.4" text-anchor="start" letter-spacing="0.3">10</text>
<text x="438.50" y="134.57" fill="#ff0000" stroke="#ff0000" font-size="12.1" text-anchor="start" >−12</text>
<text x="391.00" y="207.93" fill="#ff0000" stroke="#ff0000" font-size="17.4" text-anchor="start" >1</text>
<text x="400.06" y="207.93" fill="#ff0000" stroke="#ff0000" font-size="17.4" text-anchor="start" >.</text>
<text x="406.90" y="209.38" fill="#ff0000" stroke="#ff0000" font-size="17.4" text-anchor="start" style="stroke-width:0.55px">×</text>
<text x="419.20" y="207.93" fill="#ff0000" stroke="#ff0000" font-size="17.4" text-anchor="start" letter-spacing="0.3">10</text>
<text x="438.50" y="201.43" fill="#ff0000" stroke="#ff0000" font-size="12.1" text-anchor="start" >−12</text>
<text x="390.30" y="236.73" fill="#ff0000" stroke="#ff0000" font-size="17.4" text-anchor="start" >5</text>
<text x="400.06" y="236.73" fill="#ff0000" stroke="#ff0000" font-size="17.4" text-anchor="start" >.</text>
<text x="406.90" y="238.18" fill="#ff0000" stroke="#ff0000" font-size="17.4" text-anchor="start" style="stroke-width:0.55px">×</text>
<text x="419.20" y="236.73" fill="#ff0000" stroke="#ff0000" font-size="17.4" text-anchor="start" letter-spacing="0.3">10</text>
<text x="438.50" y="230.23" fill="#ff0000" stroke="#ff0000" font-size="12.1" text-anchor="start" >−13</text>
<text x="391.00" y="303.60" fill="#ff0000" stroke="#ff0000" font-size="17.4" text-anchor="start" >1</text>
<text x="400.06" y="303.60" fill="#ff0000" stroke="#ff0000" font-size="17.4" text-anchor="start" >.</text>
<text x="406.90" y="305.05" fill="#ff0000" stroke="#ff0000" font-size="17.4" text-anchor="start" style="stroke-width:0.55px">×</text>
<text x="419.20" y="303.60" fill="#ff0000" stroke="#ff0000" font-size="17.4" text-anchor="start" letter-spacing="0.3">10</text>
<text x="438.50" y="297.10" fill="#ff0000" stroke="#ff0000" font-size="12.1" text-anchor="start" >−13</text>
<text x="125.14" y="318.9" fill="#000" stroke="#000" font-size="17.4" text-anchor="middle" >2</text>
<text x="177.41" y="318.9" fill="#000" stroke="#000" font-size="17.4" text-anchor="middle" >4</text>
<text x="229.68" y="318.9" fill="#000" stroke="#000" font-size="17.4" text-anchor="middle" >6</text>
<text x="281.95" y="318.9" fill="#000" stroke="#000" font-size="17.4" text-anchor="middle" >8</text>
<text x="334.23" y="318.9" fill="#000" stroke="#000" font-size="17.4" text-anchor="middle" >10</text>
<text x="386.50" y="318.9" fill="#000" stroke="#000" font-size="17.4" text-anchor="middle" >12</text>
<text x="242.7" y="349.7" fill="#000" stroke="#000" font-size="17.4" text-anchor="middle" letter-spacing="0.1">z[kpc]</text>
<g transform="translate(18.6,182.7) rotate(-90)" fill="#0000ff" stroke="#0000ff">
<text x="0" y="0" font-size="17.4">n</text>
<text transform="translate(9.6,-12.6) scale(1,0.975) translate(0,12.6)" font-size="17.4">[</text>
<text x="14.4" y="0" font-size="17.4">c</text>
<text x="23.0" y="0" font-size="17.4">m</text>
<text x="37.5" y="-8.1" font-size="12.1">−3</text>
<text transform="translate(52.4,-13.2) scale(1,1.015) translate(0,13.2)" font-size="17.4">]</text>
</g>
<g transform="translate(486.1,198.9) rotate(-90)" fill="#ff0000" stroke="#ff0000">
<text x="0" y="0" font-size="17.4">P</text>
<text x="11.9" y="0" font-size="17.4">[</text>
<text x="16.15" y="0" font-size="17.4">e</text>
<text x="25.0" y="0" font-size="17.4">r</text>
<text x="31.85" y="0" font-size="17.4">g</text>
<text x="46.35" y="0" font-size="17.4">c</text>
<text x="54.3" y="0" font-size="17.4">m</text>
<text x="69.0" y="-8.4" font-size="12.1">−3</text>
<text transform="translate(84.55,3.6) scale(1,1.07) translate(0,-3.6)" font-size="17.4">]</text>
</g>
</svg>
</body></html>
